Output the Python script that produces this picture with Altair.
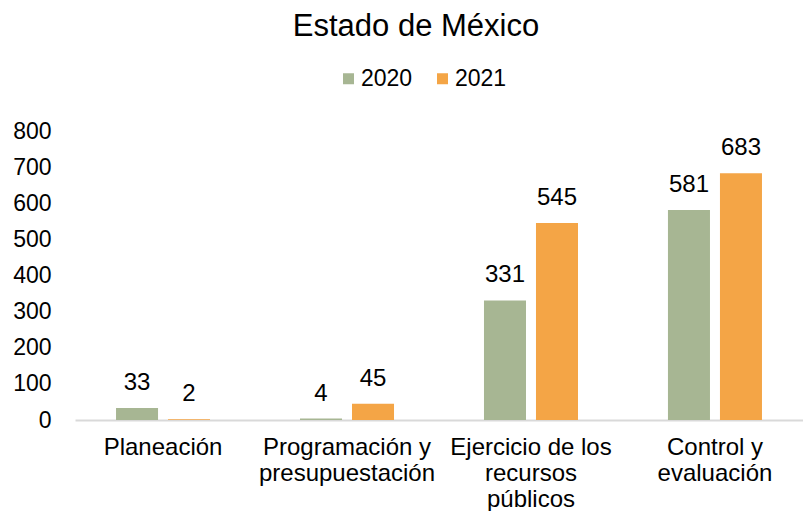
import altair as alt
import pandas as pd

title_text = "Estado de México"
categories = ["Planeación", "Programación y|presupuestación", "Ejercicio de los|recursos|públicos", "Control y|evaluación"]
years = ["2020", "2021"]
values_2020 = [33, 4, 331, 581]
values_2021 = [2, 45, 545, 683]
colors = ["#A7B693", "#F4A546"]

rows = []
for c, a, b in zip(categories, values_2020, values_2021):
    rows.append({"cat": c, "year": years[0], "value": a})
    rows.append({"cat": c, "year": years[1], "value": b})
df = pd.DataFrame(rows)

FONT = "Liberation Sans"

x = alt.X("cat:N", sort=categories, title=None,
          scale=alt.Scale(paddingInner=0.489, paddingOuter=0.223),
          axis=alt.Axis(labelExpr="split(datum.label, '|')", labelAngle=0,
                        labelFontSize=24, labelFont=FONT, labelColor="#000000",
                        labelLineHeight=26, labelPadding=15, ticks=False,
                        domainColor="#D9D9D9", domainWidth=2, labelBaseline="top"))
xo = alt.XOffset("year:N", sort=years, scale=alt.Scale(paddingInner=0.192, paddingOuter=0))
y = alt.Y("value:Q", title=None,
          scale=alt.Scale(domain=[0, 800]),
          axis=alt.Axis(values=list(range(0, 801, 100)), grid=False, domain=False, ticks=False,
                        labelOverlap=False,
                        labelFontSize=23, labelFont=FONT, labelColor="#000000", labelPadding=24))

base = alt.Chart(df).encode(x=x, xOffset=xo, y=y)

bars = base.mark_bar().encode(
    color=alt.Color("year:N", sort=years, scale=alt.Scale(domain=years, range=colors),
                    legend=alt.Legend(title=None, orient="none", direction="horizontal",
                                      legendX=262, legendY=-64, symbolType="square",
                                      symbolSize=121, labelFontSize=23, labelFont=FONT,
                                      labelColor="#000000", columnPadding=18, labelOffset=1,
                                      symbolStrokeWidth=0)),
)
labels = base.mark_text(baseline="bottom", dy=-13, fontSize=24, font=FONT, color="#000000").encode(
    text=alt.Text("value:Q"))

chart = alt.layer(bars, labels).properties(
    width=728, height=289,
    title=alt.TitleParams(title_text, fontSize=31, font=FONT, fontWeight="normal",
                          color="#000000", offset=24, anchor="middle", dx=-23),
    autosize=alt.AutoSizeParams(type="none"),
    padding={"left": 67, "top": 123, "right": 0, "bottom": 91},
).configure_view(stroke=None)

chart.save("out.html", embed_options={"renderer": "svg", "actions": False})
